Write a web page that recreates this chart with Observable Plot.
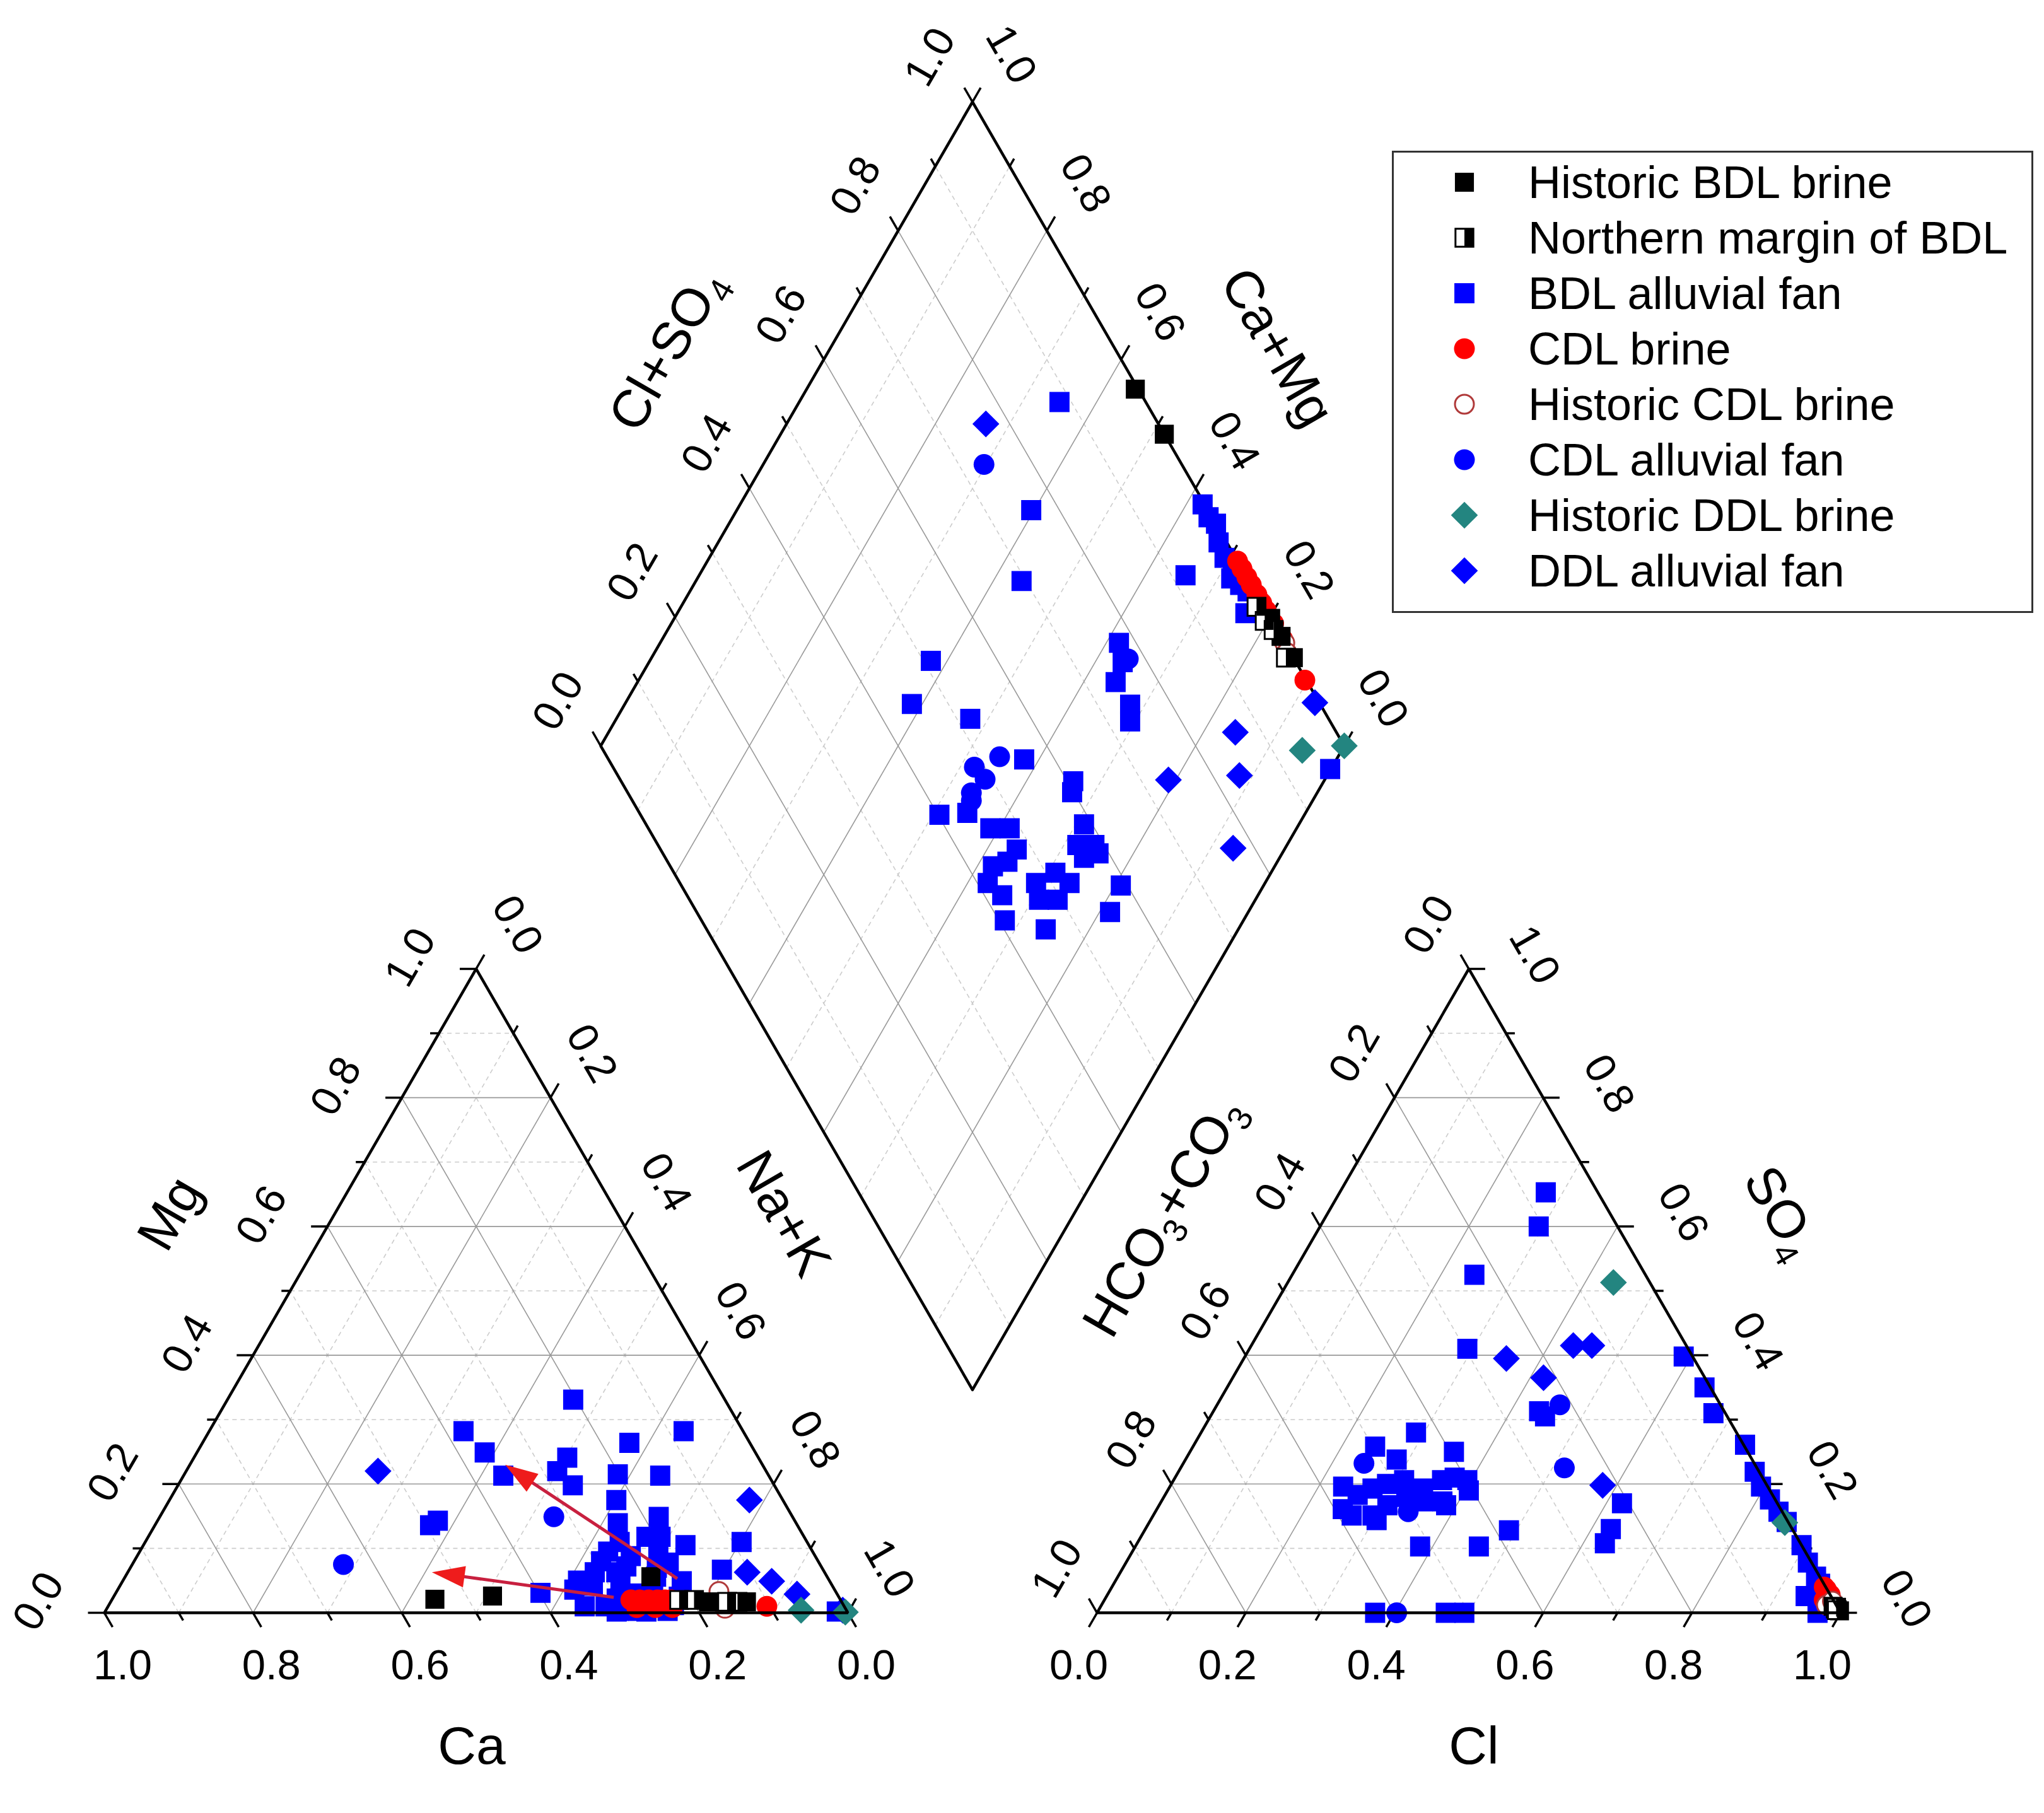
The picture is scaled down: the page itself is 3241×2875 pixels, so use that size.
<!DOCTYPE html>
<html><head><meta charset="utf-8">
<script src="https://cdn.jsdelivr.net/npm/d3@7"></script>
<script src="https://cdn.jsdelivr.net/npm/@observablehq/plot@0.6"></script>
<style>
html,body{margin:0;padding:0;background:#fff;}
#wrap{position:relative;width:3241px;height:2875px;font-family:"Liberation Sans",Arial,Helvetica,sans-serif;}
#legend{position:absolute;left:2207px;top:239px;width:1017px;height:733px;box-sizing:border-box;border:3px solid #333;background:#fff;padding-top:3px;}
.row{height:88px;display:flex;align-items:center;}
.row svg{margin-left:80px;width:64px;height:64px;flex:none;}
.row span{margin-left:69px;font-size:72px;color:#000;line-height:88px;white-space:nowrap;}
</style></head>
<body><div id="wrap"></div>
<script>
// ---------------- DATA ----------------
const seriesNames = ["Historic BDL brine","Northern margin of BDL","BDL alluvial fan","CDL brine",
  "Historic CDL brine","CDL alluvial fan","Historic DDL brine","DDL alluvial fan"];

// Cation triangle values: [Ca, Mg]  (Na+K = 1 - Ca - Mg)
const bdlBrineCat = [[0.545,0.021],[0.465,0.026],[0.237,0.056],[0.179,0.017],[0.128,0.017]];
const northCat = [[0.217,0.020],[0.197,0.020],[0.154,0.017],[0.140,0.017]];
const bdlFanCat = [[0.204,0.331],[0.376,0.282],[0.364,0.249],[0.357,0.213],[0.162,0.264],[0.080,0.282],
  [0.257,0.241],[0.281,0.220],[0.271,0.198],[0.202,0.215],[0.146,0.213],[0.224,0.175],[0.180,0.149],
  [0.240,0.139],[0.494,0.136],[0.480,0.143],[0.088,0.110],[0.136,0.067],[0.398,0.031],[0.166,0.105],
  [0.193,0.118],[0.275,0.095],[0.309,0.063],[0.248,0.088],[0.202,0.078],[0.350,0.036],[0.349,0.010],
  [0.321,0.010],[0.292,0.003],[0.241,0.003],[0.014,0.002],[0.230,0.056],[0.199,0.049],[0.280,0.063],
  [0.265,0.030],[0.215,0.025],[0.300,0.022],[0.322,0.042],[0.282,0.048],[0.262,0.072],[0.242,0.040],
  [0.222,0.070],[0.205,0.100],[0.338,0.050],[0.292,0.080],[0.262,0.010],[0.310,0.002],[0.270,0.002],
  [0.228,0.012],[0.212,0.118],[0.252,0.110]];
const cdlBrineCat = [[0.282,0.020],[0.270,0.020],[0.258,0.020],[0.246,0.020],[0.236,0.020],[0.228,0.020],
  [0.280,0.008],[0.255,0.008],[0.232,0.008],[0.104,0.010]];
const histCdlCat = [[0.157,0.033],[0.162,0.007]];
const cdlFanCat = [[0.641,0.075],[0.321,0.149]];
const histDdlCat = [[0.061,0.004],[0.003,0.001]];
const ddlFanCat = [[0.522,0.220],[0.045,0.175],[0.104,0.063],[0.078,0.049],[0.054,0.029],[0.005,0.004]];

// Anion triangle values: [Cl, SO4]  (HCO3+CO3 = 1 - Cl - SO4)
const bdlBrineAn = [[0.997,0.003],[0.990,0.006],[0.985,0.010]];
const northAn = [[0.990,0.008],[0.993,0.004]];
const bdlFanAn = [[0.277,0.653],[0.294,0.600],[0.245,0.525],[0.293,0.410],[0.590,0.398],[0.642,0.350],
  [0.674,0.310],[0.741,0.261],[0.775,0.219],[0.795,0.196],[0.817,0.176],[0.838,0.157],[0.857,0.141],
  [0.895,0.105],[0.917,0.078],[0.939,0.056],[0.940,0.026],[0.969,0.000],[0.975,0.015],[0.950,0.045],
  [0.289,0.280],[0.245,0.258],[0.284,0.238],[0.355,0.250],[0.383,0.103],[0.462,0.103],[0.490,0.128],
  [0.621,0.170],[0.626,0.130],[0.629,0.108],[0.374,0.000],[0.469,0.000],[0.494,0.000],
  [0.233,0.196],[0.250,0.161],[0.259,0.183],[0.274,0.193],[0.295,0.151],[0.290,0.200],[0.307,0.167],
  [0.310,0.206],[0.326,0.180],[0.342,0.193],[0.352,0.173],[0.361,0.206],[0.378,0.173],[0.376,0.210],
  [0.395,0.206],[0.405,0.190],[0.267,0.151],[0.304,0.144],[0.386,0.167],[0.438,0.313],[0.450,0.305]];
const cdlBrineAn = [[0.963,0.036],[0.972,0.028],[0.968,0.020],[0.978,0.015],[0.958,0.040],[0.985,0.010]];
const histCdlAn = [[0.975,0.012],[0.980,0.018]];
const cdlFanAn = [[0.243,0.232],[0.516,0.225],[0.461,0.323],[0.403,0.000],[0.340,0.157]];
const histDdlAn = [[0.438,0.513],[0.855,0.140]];
const ddlFanAn = [[0.353,0.395],[0.418,0.365],[0.433,0.415],[0.458,0.415],[0.581,0.198],[0.950,0.035]];

// Diamond values: [Ca+Mg, Cl+SO4]
const bdlBrineDia = [[0.558,0.996],[0.484,1.000],[0.198,1.000],[0.137,1.000],[0.170,1.000]];
const northDia = [[0.226,0.990],[0.204,0.990],[0.147,0.990],[0.185,0.995]];
const bdlFanDia = [[0.614,0.451],[0.524,0.518],[0.420,0.559],[0.491,0.402],[0.455,0.441],[0.412,0.460],
  [0.386,0.486],[0.360,0.479],[0.379,0.434],[0.363,0.457],[0.373,0.414],[0.344,0.424],[0.321,0.408],
  [0.308,0.479],[0.291,0.470],[0.290,0.513],[0.266,0.495],[0.263,0.524],[0.259,0.456],[0.330,0.598],
  [0.337,0.608],[0.289,0.589],[0.282,0.564],[0.259,0.587],[0.247,0.586],[0.263,0.563],[0.192,0.591],
  [0.186,0.556],[0.383,0.777],[0.363,0.767],[0.357,0.742],[0.320,0.744],[0.307,0.731],
  [0.650,0.884],[0.604,0.762],[0.562,0.694],[0.622,0.510],[0.346,0.919],
  [0.001,0.963],[0.378,0.997],[0.360,0.995],[0.345,1.000],[0.327,0.989],[0.307,0.985],[0.290,0.990],
  [0.282,0.978],[0.265,0.985],[0.250,0.990],[0.236,0.970]];
const cdlBrineDia = [[0.287,1.000],[0.275,1.000],[0.262,1.000],[0.250,1.000],[0.235,1.000],[0.222,1.000],
  [0.210,1.000],[0.190,1.000],[0.165,1.000],[0.104,0.998]];
const histCdlDia = [[0.160,1.000],[0.150,0.995]];
const cdlFanDia = [[0.703,0.734],[0.455,0.528],[0.481,0.486],[0.457,0.491],[0.465,0.462],[0.459,0.456],[0.358,0.777]];
const histDdlDia = [[0.053,0.940],[0.000,1.000]];
const ddlFanDia = [[0.732,0.768],[0.210,0.737],[0.157,0.864],[0.118,0.836],[0.070,0.771],[0.073,0.994]];

// Arrows in cation triangle: [Ca, Mg]
const arrowStart = [[0.203,0.053],[0.303,0.024]];
const arrowEnd = [[0.346,0.230],[0.528,0.063]];

// Tick values
const tickValues = [0, 0.2, 0.4, 0.6, 0.8, 1.0];
const tenths = d3.range(0, 11).map(i => i / 10);

// ---------------- GEOMETRY ----------------
const W = 3241, H = 2875, U = 1179, OX = 165, OY = 2557;
const S3 = Math.sqrt(3) / 2;
const GAP = 0.335, AX0 = 1 + GAP, DX = 1 + GAP / 2, DY = 0.30;
const cat = ([ca, mg]) => ({x: 1 - ca - mg / 2, y: mg * S3});
const ani = ([cl, so4]) => ({x: AX0 + cl + so4 / 2, y: so4 * S3});
const dia = ([cm, cs]) => ({x: DX + (cs - cm) / 2, y: DY + S3 * (cs + cm)});

// ---------------- STYLES ----------------
const BLUE = "#0000ff", RED = "#ff0000", TEAL = "#238580", BRICK = "#b03a3a";
const rhombus = {draw(ctx, size) { const h = Math.sqrt(size / 2); ctx.moveTo(0, -h); ctx.lineTo(h, 0); ctx.lineTo(0, h); ctx.lineTo(-h, 0); ctx.closePath(); }};
const halfRight = {draw(ctx, size) { const h = Math.sqrt(size) / 2; ctx.rect(0, -h, h, 2 * h); }};
const symMap = {square: d3.symbolSquare, circle: d3.symbolCircle};
const symOf = s => (typeof s === "string" ? symMap[s] : s);

const series = [
  {name: seriesNames[0], cat: bdlBrineCat, ani: bdlBrineAn, dia: bdlBrineDia, layers: [{symbol: "square", r: 17, fill: "#000"}]},
  {name: seriesNames[1], cat: northCat, ani: northAn, dia: northDia, layers: [{symbol: "square", r: 16, fill: "#fff", stroke: "#000", strokeWidth: 3}, {symbol: halfRight, r: 16, fill: "#000"}]},
  {name: seriesNames[2], cat: bdlFanCat, ani: bdlFanAn, dia: bdlFanDia, layers: [{symbol: "square", r: 18, fill: BLUE}]},
  {name: seriesNames[3], cat: cdlBrineCat, ani: cdlBrineAn, dia: cdlBrineDia, layers: [{symbol: "circle", r: 16.5, fill: RED}]},
  {name: seriesNames[4], cat: histCdlCat, ani: histCdlAn, dia: histCdlDia, layers: [{symbol: "circle", r: 15, fill: "#fff", stroke: BRICK, strokeWidth: 3}]},
  {name: seriesNames[5], cat: cdlFanCat, ani: cdlFanAn, dia: cdlFanDia, layers: [{symbol: "circle", r: 16.5, fill: BLUE}]},
  {name: seriesNames[6], cat: histDdlCat, ani: histDdlAn, dia: histDdlDia, layers: [{symbol: rhombus, r: 17, fill: TEAL}]},
  {name: seriesNames[7], cat: ddlFanCat, ani: ddlFanAn, dia: ddlFanDia, layers: [{symbol: rhombus, r: 17, fill: BLUE}]}
];
const drawOrder = [2, 5, 7, 6, 3, 4, 0, 1];

// ---------------- GRID ----------------
const gridMajor = [], gridMinor = [];
for (let i = 1; i <= 9; i++) {
  const v = i / 10, arr = i % 2 ? gridMinor : gridMajor;
  arr.push([cat([1 - v, v]), cat([0, v])]);
  arr.push([cat([v, 0]), cat([v, 1 - v])]);
  arr.push([cat([1 - v, 0]), cat([0, 1 - v])]);
  arr.push([ani([0, v]), ani([1 - v, v])]);
  arr.push([ani([v, 0]), ani([v, 1 - v])]);
  arr.push([ani([1 - v, 0]), ani([0, 1 - v])]);
  arr.push([dia([0, v]), dia([1, v])]);
  arr.push([dia([v, 0]), dia([v, 1])]);
}
const linkOpts = {x1: d => d[0].x, y1: d => d[0].y, x2: d => d[1].x, y2: d => d[1].y};

const triOutline = [
  ...[[1,0],[0,0],[0,1],[1,0]].map(p => ({k: "cat", ...cat(p)})),
  ...[[0,0],[1,0],[0,1],[0,0]].map(p => ({k: "ani", ...ani(p)}))
];
const diaOutline = [[0,0],[0,1],[1,1],[1,0],[0,0]].map(p => ({k: "dia", ...dia(p)}));

// ---------------- AXES ----------------
const FONT = "Liberation Sans, Arial, Helvetica, sans-serif";
const axesDef = [
  {base: v => cat([v, 0]), dir: [0.5, -S3], lab: [29, 84], rot: 0},
  {base: v => cat([1 - v, v]), dir: [-1, 0], lab: [-104, -18], rot: -60},
  {base: v => cat([0, 1 - v]), dir: [0.5, S3], lab: [65, -70], rot: 60},
  {base: v => ani([v, 0]), dir: [-0.5, -S3], lab: [-29, 84], rot: 0},
  {base: v => ani([1 - v, v]), dir: [1, 0], lab: [104, -22], rot: 60},
  {base: v => ani([0, 1 - v]), dir: [-0.5, S3], lab: [-63, -70], rot: -60},
  {base: v => dia([1, v]), dir: [-0.5, S3], lab: [-67, -71], rot: -60},
  {base: v => dia([v, 1]), dir: [0.5, S3], lab: [61, -75], rot: 60}
];
const tickMarks = [];
const labelMarks = [];
for (const ax of axesDef) {
  const ticks = tenths.map(v => {
    const b = ax.base(v);
    const L = (Math.round(v * 10) % 2 === 0 ? 26 : 14) / U;
    return {x1: b.x, y1: b.y, x2: b.x + ax.dir[0] * L, y2: b.y + ax.dir[1] * L};
  });
  tickMarks.push(Plot.link(ticks, {x1: "x1", y1: "y1", x2: "x2", y2: "y2", stroke: "#000", strokeWidth: 3.5}));
  const labs = tickValues.map(v => ({...ax.base(v), t: v.toFixed(1)}));
  labelMarks.push(Plot.text(labs, {x: "x", y: "y", text: "t", dx: ax.lab[0], dy: ax.lab[1], rotate: ax.rot,
    fontSize: 67, textAnchor: "middle", lineAnchor: "middle", fill: "#000"}));
}

const titles = [
  {t: "Ca", p: cat([0.5, 0]), dx: -7, dy: 213, rot: 0},
  {t: "Mg", p: cat([0.5, 0.5]), dx: -190, dy: -122, rot: -60},
  {t: "Na+K", p: cat([0, 0.5]), dx: 192, dy: -122, rot: 60},
  {t: "Cl", p: ani([0.5, 0]), dx: 8, dy: 213, rot: 0},
  {t: "HCO_3+CO_3", p: ani([0, 0.5]), dx: -189, dy: -117, rot: -60},
  {t: "SO_4", p: ani([0.5, 0.5]), dx: 200, dy: -124, rot: 60},
  {t: "Cl+SO_4", p: dia([1, 0.5]), dx: -189, dy: -117, rot: -60},
  {t: "Ca+Mg", p: dia([0.5, 1]), dx: 188, dy: -121, rot: 60}
];
const titleMarks = titles.map(d => Plot.text([d], {x: d => d.p.x, y: d => d.p.y, text: "t", dx: d.dx, dy: d.dy,
  rotate: d.rot, fontSize: 84, textAnchor: "middle", lineAnchor: "middle", fill: "#000"}));

// ---------------- DOTS ----------------
function dotMarks(idx) {
  const s = series[idx];
  const pts = [...s.cat.map(cat), ...s.ani.map(ani), ...s.dia.map(dia)];
  return s.layers.map(l => Plot.dot(pts, {x: "x", y: "y", ...l}));
}

// ---------------- ARROWS ----------------
const HEAD_L = 52, HEAD_W = 17;
function headSymbol(theta) {
  const c = Math.cos(theta), s = Math.sin(theta);
  return {draw(ctx) {
    ctx.moveTo(0, 0);
    ctx.lineTo(-HEAD_L * c - HEAD_W * s, -HEAD_L * s + HEAD_W * c);
    ctx.lineTo(-HEAD_L * c + HEAD_W * s, -HEAD_L * s - HEAD_W * c);
    ctx.closePath();
  }};
}
const arrowMarks = [];
arrowStart.forEach((a, i) => {
  const p0 = cat(a), p1 = cat(arrowEnd[i]);
  const theta = Math.atan2(-(p1.y - p0.y), p1.x - p0.x);
  const back = 0.8 * HEAD_L / U;
  const shaft = [{x1: p0.x, y1: p0.y, x2: p1.x - Math.cos(theta) * back, y2: p1.y + Math.sin(theta) * back}];
  arrowMarks.push(Plot.link(shaft, {x1: "x1", y1: "y1", x2: "x2", y2: "y2", stroke: "#c8203f", strokeWidth: 5}));
  arrowMarks.push(Plot.dot([p1], {x: "x", y: "y", symbol: headSymbol(theta), r: 10, fill: "#ee1c1c"}));
});

// ---------------- PLOT ----------------
const chart = Plot.plot({
  width: W, height: H, margin: 0,
  x: {domain: [-OX / U, (W - OX) / U], range: [0, W], axis: null},
  y: {domain: [-(H - OY) / U, OY / U], range: [H, 0], axis: null},
  style: {background: "#fff", fontFamily: FONT},
  marks: [
    Plot.link(gridMinor, {...linkOpts, stroke: "#cccccc", strokeWidth: 1.6, strokeDasharray: "7,6"}),
    Plot.link(gridMajor, {...linkOpts, stroke: "#999999", strokeWidth: 1.6}),
    Plot.line(diaOutline, {x: "x", y: "y", z: "k", stroke: "#000", strokeWidth: 4.5, strokeLinejoin: "miter"}),
    ...tickMarks,
    ...labelMarks,
    ...titleMarks,
    ...drawOrder.flatMap(dotMarks),
    Plot.line(triOutline, {x: "x", y: "y", z: "k", stroke: "#000", strokeWidth: 4.5, strokeLinejoin: "miter"}),
    ...arrowMarks
  ]
});

// subscripts
chart.querySelectorAll("text").forEach(t => {
  const s = t.textContent;
  if (!s.includes("_")) return;
  t.textContent = "";
  let shifted = false;
  for (const p of s.split(/(_\d)/)) {
    if (!p) continue;
    const ts = document.createElementNS("http://www.w3.org/2000/svg", "tspan");
    if (p.startsWith("_")) {
      ts.textContent = p.slice(1); ts.setAttribute("font-size", "54"); ts.setAttribute("dy", "18"); shifted = true;
    } else {
      ts.textContent = p; if (shifted) { ts.setAttribute("dy", "-18"); shifted = false; }
    }
    t.appendChild(ts);
  }
});

const wrap = document.getElementById("wrap");
wrap.appendChild(chart);

// ---------------- LEGEND ----------------
const legend = document.createElement("div");
legend.id = "legend";
for (const s of series) {
  const row = document.createElement("div");
  row.className = "row";
  const svg = d3.create("svg").attr("viewBox", "-32 -32 64 64");
  for (const l of s.layers) {
    svg.append("path").attr("d", d3.symbol(symOf(l.symbol), Math.PI * l.r * l.r)())
      .attr("fill", l.fill || "none").attr("stroke", l.stroke || "none").attr("stroke-width", l.strokeWidth || 0);
  }
  row.appendChild(svg.node());
  const span = document.createElement("span");
  span.textContent = s.name;
  row.appendChild(span);
  legend.appendChild(row);
}
wrap.appendChild(legend);
</script></body></html>
